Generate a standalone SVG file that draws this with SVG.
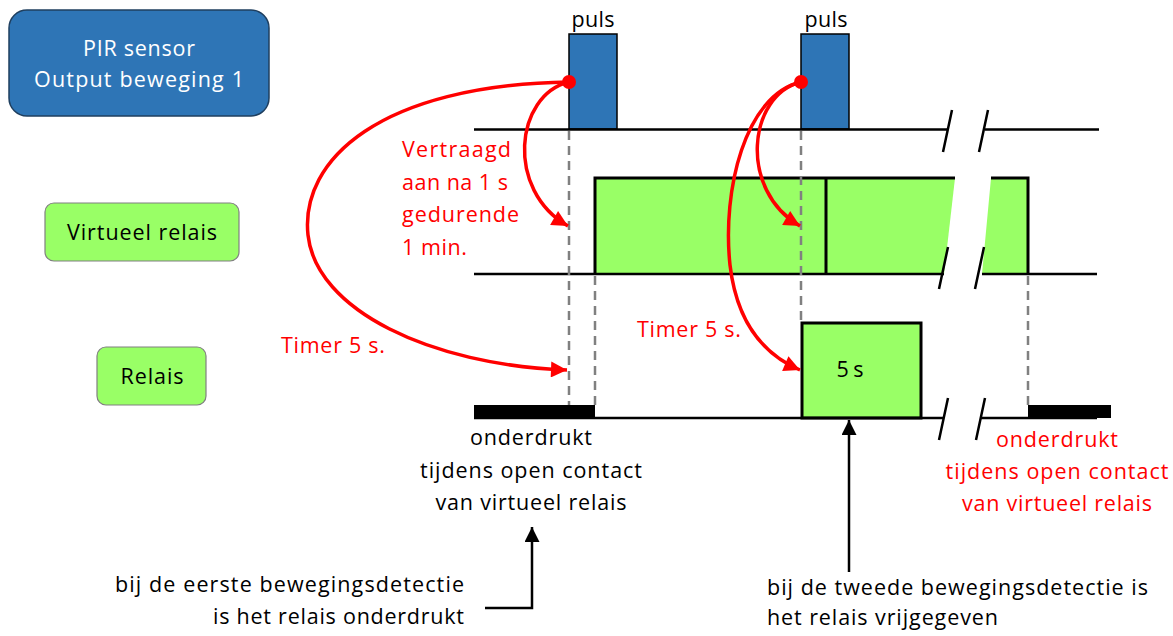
<svg xmlns="http://www.w3.org/2000/svg" width="1173" height="636" viewBox="0 0 1173 636">
<defs>
<style>
.t{font-family:"Open Sans","Liberation Sans",sans-serif;font-size:21.5px;fill:#000}
.w{fill:#fff}
.r{fill:#ff0000}
.c{text-anchor:middle}
.e{text-anchor:end}
.ax{fill:none;stroke:#000;stroke-width:2.5}
.dash{fill:none;stroke:#808080;stroke-width:2.5;stroke-dasharray:9,6}
.red{fill:none;stroke:#ff0000;stroke-width:3.5}
.blk{stroke:#000;stroke-width:3;fill:none}
.grn{fill:#99ff66}
</style>
<marker id="ra" viewBox="0 0 10 10" refX="10" refY="5" markerWidth="22" markerHeight="16" markerUnits="userSpaceOnUse" orient="auto"><path d="M0,0 L10,5 L0,10 z" fill="#ff0000"/></marker>
<marker id="ba" viewBox="0 0 10 10" refX="10" refY="5" markerWidth="17" markerHeight="15" markerUnits="userSpaceOnUse" orient="auto"><path d="M0,0 L10,5 L0,10 z" fill="#000"/></marker>
</defs>
<rect width="1173" height="636" fill="#fff"/>

<g id="pir-sensor">
<rect x="9" y="10" width="260" height="106" rx="18" fill="#2e75b6" stroke="#1f3f5f" stroke-width="1.5"/>
<text class="t w c" x="139" y="56" textLength="112">PIR sensor</text>
<text class="t w c" x="139" y="87" textLength="210">Output beweging 1</text>
</g>
<g id="virtueel-relais">
<rect x="45" y="203" width="194" height="58" rx="9" fill="#99ff66" stroke="#808080" stroke-width="1.2"/>
<text class="t c" x="142" y="240" textLength="150">Virtueel relais</text>
</g>
<g id="relais">
<rect x="97" y="347" width="109" height="58" rx="9" fill="#99ff66" stroke="#808080" stroke-width="1.2"/>
<text class="t c" x="152" y="384" textLength="63">Relais</text>
</g>

<g id="waveforms">
<rect x="569" y="34" width="48" height="95" fill="#2e75b6" stroke="#000" stroke-width="1.5"/>
<rect x="801" y="34" width="48" height="95" fill="#2e75b6" stroke="#000" stroke-width="1.5"/>
<text class="t c" x="593" y="27" textLength="43">puls</text>
<text class="t c" x="826" y="27" textLength="43">puls</text>
<path class="ax" d="M474,129.5 H948 M985,129.5 H1099"/>
<path class="ax" d="M952,110 L943,152 M988,110 L979,152"/>
<polygon class="grn" points="595,178 955,178 944,274 595,274"/>
<polygon class="grn" points="991,178 1028,178 1028,274 982,274"/>
<path class="blk" d="M595,274 V178 H955 M826,178 V274 M991,178 H1028 V274"/>
<path class="ax" d="M474,274 H944 M982,274 H1097"/>
<path class="ax" d="M948,247 L939,289 M984,247 L975,289"/>
<rect x="802" y="323" width="119" height="95" fill="#99ff66" stroke="#000" stroke-width="3"/>
<text class="t c" x="850" y="377" textLength="27">5 s</text>
<path class="ax" d="M474,418 H943 M980,418 H1097"/>
<path class="ax" d="M948,398 L939,440 M985,398 L976,440"/>
<rect x="474" y="405" width="121" height="13" fill="#000"/>
<rect x="1028" y="405" width="83" height="13" fill="#000"/>
<path class="dash" d="M569,131 V405 M595,276 V405 M801,131 V323 M1028,276 V405"/>
</g>

<g id="labels">
<text class="t r" x="402" y="157" textLength="109">Vertraagd</text>
<text class="t r" x="402" y="190" textLength="106">aan na 1 s</text>
<text class="t r" x="402" y="222" textLength="117">gedurende</text>
<text class="t r" x="402" y="255" textLength="65">1 min.</text>
<text class="t r" x="281" y="353" textLength="104">Timer 5 s.</text>
<text class="t r" x="637" y="337" textLength="104">Timer 5 s.</text>
<text class="t c" x="531" y="445" textLength="122">onderdrukt</text>
<text class="t c" x="531" y="478" textLength="222">tijdens open contact</text>
<text class="t c" x="531" y="510" textLength="191">van virtueel relais</text>
<text class="t r c" x="1057" y="447" textLength="122">onderdrukt</text>
<text class="t r c" x="1057" y="479" textLength="223">tijdens open contact</text>
<text class="t r c" x="1057" y="511" textLength="190">van virtueel relais</text>
<text class="t e" x="464" y="592" textLength="349">bij de eerste bewegingsdetectie</text>
<text class="t e" x="464" y="624" textLength="251">is het relais onderdrukt</text>
<text class="t" x="767" y="595" textLength="381">bij de tweede bewegingsdetectie is</text>
<text class="t" x="767" y="625" textLength="231">het relais vrijgegeven</text>
</g>

<g id="connectors">
<path class="red" marker-end="url(#ra)" d="M569,82 C515,95 505,190 568,226"/>
<path class="red" marker-end="url(#ra)" d="M569,82 C380,85 300,160 308,235 C316,310 430,365 567,370"/>
<path class="red" marker-end="url(#ra)" d="M801,82 C748,95 738,190 800,226"/>
<path class="red" marker-end="url(#ra)" d="M801,82 C745,95 722,190 730,265 C737,325 765,355 800,370"/>
<circle cx="569" cy="82" r="7" fill="#ff0000"/>
<circle cx="801" cy="82" r="7" fill="#ff0000"/>
<path class="ax" marker-end="url(#ba)" d="M485,608 H532 V527"/>
<path class="ax" marker-end="url(#ba)" d="M849,572 V420"/>
</g>
</svg>
